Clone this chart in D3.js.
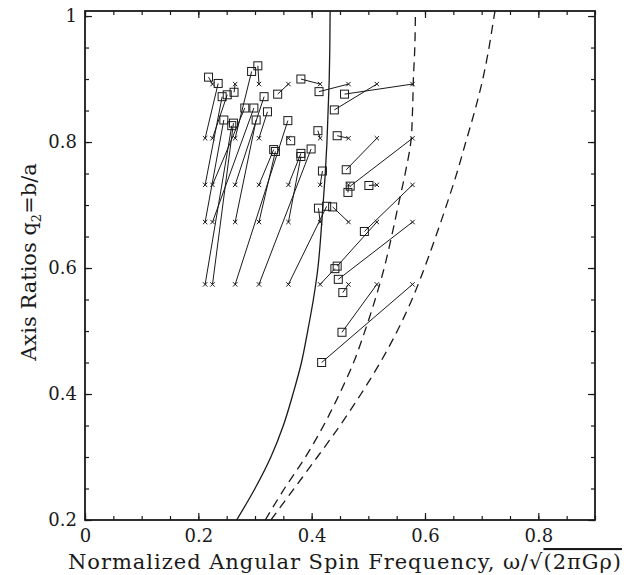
<!DOCTYPE html>
<html><head><meta charset="utf-8">
<script src="https://cdn.jsdelivr.net/npm/d3@7"></script>
<style>body{margin:0;background:#fff}</style>
</head><body><svg id="c" width="627" height="575"></svg>
<script>
// Track start points (crosses) and end points (squares)
const startOmega = [0.225,0.265,0.307,0.359,0.415,0.465,0.515,0.578,
  0.212,0.225,0.265,0.307,0.359,0.415,0.465,0.515,0.578,
  0.212,0.225,0.265,0.307,0.359,0.415,0.465,0.515,0.578,
  0.212,0.225,0.265,0.307,0.359,0.415,0.465,0.515,0.578,
  0.212,0.225,0.265,0.307,0.359,0.415,0.465,0.515,0.578];
const startQ = [0.892,0.892,0.892,0.892,0.892,0.892,0.892,0.892,
  0.806,0.806,0.806,0.806,0.806,0.806,0.806,0.806,0.806,
  0.732,0.732,0.732,0.732,0.732,0.732,0.732,0.732,0.732,
  0.673,0.673,0.673,0.673,0.673,0.673,0.673,0.673,0.673,
  0.574,0.574,0.574,0.574,0.574,0.574,0.574,0.574,0.574];
const endOmega = [0.218,0.263,0.305,0.340,0.381,0.413,0.440,0.458,
  0.235,0.251,0.294,0.322,0.363,0.411,0.445,0.461,0.468,
  0.242,0.282,0.316,0.333,0.381,0.419,0.464,0.501,0.493,
  0.245,0.298,0.302,0.336,0.381,0.412,0.437,0.445,0.447,
  0.259,0.262,0.358,0.399,0.4265,0.441,0.455,0.4535,0.4176];
const endQ = [0.903,0.879,0.921,0.876,0.900,0.880,0.851,0.876,
  0.893,0.875,0.912,0.848,0.802,0.818,0.810,0.756,0.730,
  0.872,0.854,0.872,0.788,0.782,0.754,0.720,0.731,0.658,
  0.835,0.854,0.835,0.785,0.777,0.695,0.697,0.603,0.582,
  0.826,0.830,0.834,0.789,0.698,0.599,0.561,0.498,0.450];

// Model curves: omega as a function of q
const curveQ = [0.2,0.25,0.3,0.35,0.4,0.45,0.5,0.55,0.6,0.65,0.7,0.75,0.8,0.85,0.9,0.95,1.0,1.01];
const solidOmega = [0.2676,0.300,0.328,0.350,0.367,0.382,0.393,0.403,0.411,0.416,0.420,0.424,0.427,0.429,0.431,0.432,0.4325,0.4327];
const dashedInnerOmega = [0.318,0.352,0.389,0.421,0.449,0.474,0.494,0.512,0.528,0.541,0.553,0.565,0.575,0.578,0.5795,0.582,0.583,0.583];
const dashedOuterOmega = [0.328,0.369,0.410,0.450,0.487,0.521,0.551,0.577,0.599,0.619,0.638,0.656,0.672,0.688,0.702,0.713,0.722,0.724];

const xMajorTicks = [0,0.2,0.4,0.6,0.8];
const xMinorTicks = d3.range(0,0.9001,0.05);
const yMajorTicks = [0.2,0.4,0.6,0.8,1.0];
const yMinorTicks = d3.range(0.2,1.0001,0.05);
const xDomain = [0,0.9];
const yDomain = [0.2,1.008];

const svg = d3.select("#c");
const L=85,R=595,T=11,B=520;
const x = d3.scaleLinear().domain(xDomain).range([L,R]);
const y = d3.scaleLinear().domain(yDomain).range([B,T]);
const font = "DejaVu Serif";
const ink = "#1a1a1a";

svg.append("clipPath").attr("id","clip").append("rect")
  .attr("x",L).attr("y",T).attr("width",R-L).attr("height",B-T);

// curves
const line = d3.line().x(d=>x(d[0])).y(d=>y(d[1])).curve(d3.curveCatmullRom);
const g = svg.append("g").attr("clip-path","url(#clip)");
[[solidOmega,null],[dashedInnerOmega,"9,6"],[dashedOuterOmega,"9,6"]].forEach(([om,dash])=>{
  g.append("path").datum(om.map((o,i)=>[o,curveQ[i]]))
   .attr("d",line).attr("fill","none").attr("stroke",ink).attr("stroke-width",1.3)
   .attr("stroke-dasharray",dash);
});

// tracks
const tracks = startOmega.map((s,i)=>({x0:s,y0:startQ[i],x1:endOmega[i],y1:endQ[i]}));
g.selectAll("line.trk").data(tracks).join("line").attr("class","trk")
  .attr("x1",d=>x(d.x0)).attr("y1",d=>y(d.y0)).attr("x2",d=>x(d.x1)).attr("y2",d=>y(d.y1))
  .attr("stroke",ink).attr("stroke-width",1);
const cs=2.2;
tracks.forEach(d=>{
  const cx=x(d.x0), cy=y(d.y0);
  g.append("path").attr("d",`M${cx-cs},${cy-cs}L${cx+cs},${cy+cs}M${cx-cs},${cy+cs}L${cx+cs},${cy-cs}`)
   .attr("stroke",ink).attr("stroke-width",1);
});
const bs=4;
g.selectAll("rect.box").data(tracks).join("rect").attr("class","box")
  .attr("x",d=>x(d.x1)-bs).attr("y",d=>y(d.y1)-bs).attr("width",2*bs).attr("height",2*bs)
  .attr("fill","none").attr("stroke",ink).attr("stroke-width",1);

// axes
const fmtX = d=> d===0?"0":d3.format(".1f")(d);
const fmtY = d=> d===1?"1":d3.format(".1f")(d);
function styleAxis(sel){
  sel.select(".domain").remove();
  sel.selectAll(".tick line").attr("stroke",ink).attr("stroke-width",1.2);
  sel.selectAll("text").attr("font-family",font).attr("font-size",18).attr("fill",ink);
}
svg.append("g").attr("transform",`translate(0,${B})`).call(d3.axisBottom(x).tickValues(xMinorTicks).tickSize(-4).tickFormat("")).call(styleAxis);
svg.append("g").attr("transform",`translate(0,${B})`).call(d3.axisBottom(x).tickValues(xMajorTicks).tickSize(-7).tickPadding(9).tickFormat(fmtX)).call(styleAxis);
svg.append("g").attr("transform",`translate(0,${T})`).call(d3.axisTop(x).tickValues(xMinorTicks).tickSize(-4).tickFormat("")).call(styleAxis);
svg.append("g").attr("transform",`translate(0,${T})`).call(d3.axisTop(x).tickValues(xMajorTicks).tickSize(-7).tickFormat("")).call(styleAxis);
svg.append("g").attr("transform",`translate(${L},0)`).call(d3.axisLeft(y).tickValues(yMinorTicks).tickSize(-4).tickFormat("")).call(styleAxis);
svg.append("g").attr("transform",`translate(${L},0)`).call(d3.axisLeft(y).tickValues(yMajorTicks).tickSize(-7).tickPadding(8).tickFormat(fmtY)).call(styleAxis);
svg.append("g").attr("transform",`translate(${R},0)`).call(d3.axisRight(y).tickValues(yMinorTicks).tickSize(-4).tickFormat("")).call(styleAxis);
svg.append("g").attr("transform",`translate(${R},0)`).call(d3.axisRight(y).tickValues(yMajorTicks).tickSize(-7).tickFormat("")).call(styleAxis);

svg.append("rect").attr("x",L).attr("y",T).attr("width",R-L).attr("height",B-T)
  .attr("fill","none").attr("stroke",ink).attr("stroke-width",1.8);

// titles
const xt = svg.append("text").attr("x",68).attr("y",569).attr("font-family",font).attr("font-size",21)
  .attr("fill",ink);
xt.append("tspan").text("Normalized Angular Spin Frequency, ω/√");
xt.append("tspan").style("text-decoration","overline").text("(2πGρ)");
const natural = xt.node().getComputedTextLength();
const nChars = xt.text().length;
xt.style("letter-spacing", ((553 - natural) / (nChars - 1)) + "px");

const yt = svg.append("text").attr("transform","translate(36,262) rotate(-90)").attr("text-anchor","middle")
  .attr("font-family",font).attr("font-size",21).attr("fill",ink);
yt.append("tspan").text("Axis Ratios q");
yt.append("tspan").attr("font-size",13).attr("dy",5).text("2");
yt.append("tspan").attr("dy",-5).text("=b/a");
</script></body></html>
